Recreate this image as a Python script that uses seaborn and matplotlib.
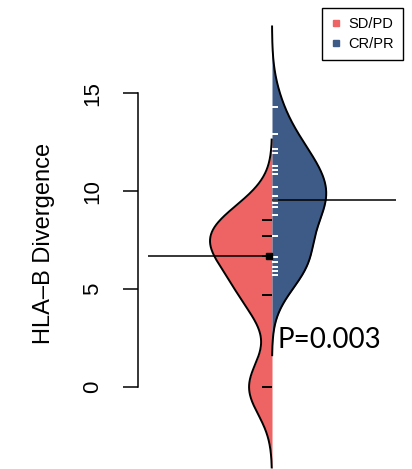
import numpy as np
import pandas as pd
import matplotlib
matplotlib.use("Agg")
import matplotlib.pyplot as plt
from matplotlib.lines import Line2D
import seaborn as sns

# ---- data ----
groups = ["SD/PD", "CR/PR"]
sdpd_values = [0.0, 4.7, 6.7, 7.7, 8.55]
crpr_values = [5.73, 5.95, 6.15, 6.41, 6.66, 7.72, 7.72, 8.79, 9.20, 9.40,
               9.56, 9.76, 9.76, 10.22, 10.88, 11.09, 11.29, 11.97, 12.14,
               12.92, 14.32]
yticks = [0, 5, 10, 15]
y_label = "HLA\u2013B Divergence"
p_label = "P=0.003"

# ---- styles ----
colors = ["#EE6363", "#3D5B86"]
bandwidth = 1.38  # absolute KDE bandwidth (same for both groups)

plt.rcParams['font.family'] = ['Liberation Sans', 'DejaVu Sans']

df = pd.DataFrame({
    "x": [""] * (len(sdpd_values) + len(crpr_values)),
    "group": [groups[0]] * len(sdpd_values) + [groups[1]] * len(crpr_values),
    "value": sdpd_values + crpr_values,
})

W, H = 412, 469
fig = plt.figure(figsize=(W / 100, H / 100), dpi=100)
ax = fig.add_axes([0, 0, 1, 1])
ax.patch.set_alpha(0)


def abs_bw(kde):
    return bandwidth / np.std(np.asarray(kde.dataset).ravel(), ddof=1)


sns.violinplot(data=df, x="x", y="value", hue="group", hue_order=groups,
               palette=colors, split=True, inner=None, cut=3,
               bw_method=abs_bw, density_norm="area", common_norm=True,
               linewidth=0, gridsize=400, saturation=1, legend=False, ax=ax)

# outline of each half (outer curve only, no centre line)
wmax = 0.0
for coll in ax.collections:
    for p in coll.get_paths():
        v = p.vertices
        m = np.abs(v[:, 0]) > 1e-9
        if m.sum() == 0:
            continue
        cv = v[m]
        cv = cv[np.argsort(cv[:, 1])]
        ax.plot(cv[:, 0], cv[:, 1], color="black", lw=1.4, zorder=3,
                solid_capstyle="butt")
        wmax = max(wmax, np.abs(cv[:, 0]).max())

# pixel-based x scaling
cx_px = 272.0
scale = 62.0 / wmax  # px per data unit
ax.set_xlim(-cx_px / scale, (W - cx_px) / scale)
ax.set_ylim((387.3 - H) / 19.6, 387.3 / 19.6)

# bean lines (individual observations)
ax.hlines(sdpd_values, -10 / scale, 0, colors="black", lw=1.4, zorder=4)
ax.hlines(crpr_values, 0, 6 / scale, colors="white", lw=1.4, zorder=4)

# median lines
med_l = np.median(sdpd_values)
med_r = np.median(crpr_values)
ax.hlines(med_l, -2 * wmax, 0, colors="black", lw=1.1, zorder=5)
ax.hlines(med_r, 0, 2 * wmax, colors="black", lw=1.1, zorder=5)
ax.plot([-3 / scale], [med_l], marker="s", color="black", ms=4, zorder=6)

# axes styling
for s in ["top", "right", "bottom"]:
    ax.spines[s].set_visible(False)
ax.spines["left"].set_position(("axes", 138 / W))
ax.spines["left"].set_bounds(min(yticks), max(yticks))
ax.spines["left"].set_linewidth(1.1)
ax.set_xticks([])
ax.set_xlabel("")
ax.set_yticks(yticks)
ax.set_yticklabels([str(t) for t in yticks])
ax.tick_params(axis="y", length=11, width=1.1, pad=14, labelsize=16)
for lab in ax.get_yticklabels():
    lab.set_rotation(90)
    lab.set_va("center")
ax.set_ylabel(y_label, fontsize=17, va="center", ha="center")
ax.yaxis.set_label_coords(44 / W, (H - 243.5) / H)

# p-value
fig.text(278 / W, 1 - 340 / H, p_label, fontsize=20, family=["Lato", "DejaVu Sans"],
         ha="left", va="center")

# legend
handles = [Line2D([], [], marker="s", linestyle="", color=c, markersize=5)
           for c in colors]
leg = ax.legend(handles, groups, loc="upper right",
                bbox_to_anchor=(403 / W, 1 - 8 / H), frameon=True,
                fancybox=False, edgecolor="black", framealpha=1, fontsize=10.5,
                handlelength=0.7, handletextpad=0.5, borderaxespad=0,
                labelspacing=0.45, borderpad=0.6)
leg.get_frame().set_linewidth(1.0)

fig.savefig("out.png", dpi=100)
